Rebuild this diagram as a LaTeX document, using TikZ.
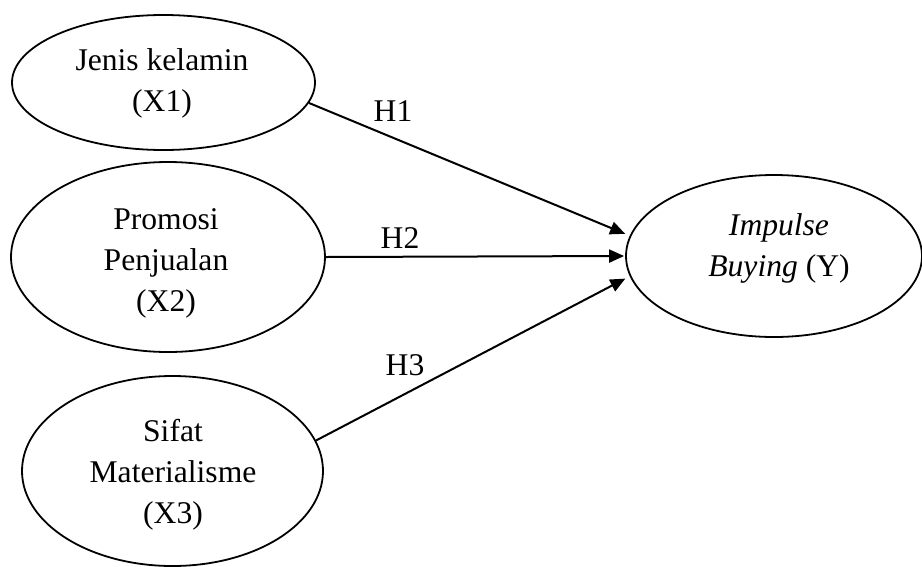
\documentclass[tikz,border=0pt]{standalone}
\usepackage{fontspec}
\setmainfont{Liberation Serif}
\usetikzlibrary{shapes.geometric,arrows.meta}
\begin{document}
\begin{tikzpicture}[x=1pt,y=-1pt,
  oval/.style={ellipse,draw,line width=1.8pt,inner sep=0pt},
  txt/.style={align=center,inner sep=0pt,font=\fontsize{31.6}{41}\selectfont},
  hyp/.style={inner sep=0pt,font=\fontsize{31.6}{41}\selectfont},
  link/.style={line width=2pt,-{Triangle[length=15pt,width=13pt]},shorten >=5pt}]
\useasboundingbox (0,0) rectangle (922,566);
\node[oval,minimum width=303pt,minimum height=135pt] (x1) at (163.5,82.5) {};
\node[oval,minimum width=314pt,minimum height=190pt] (x2) at (168,257) {};
\node[oval,minimum width=301pt,minimum height=190pt] (x3) at (172.5,471) {};
\node[oval,minimum width=296pt,minimum height=162pt] (y) at (774,256) {};
\node[txt] (t1) at (162,83) {Jenis kelamin\\(X1)};
\node[txt] (t2) at (166,263.5) {Promosi\\Penjualan\\(X2)};
\node[txt] (t3) at (173,475) {Sifat\\Materialisme\\(X3)};
\node[txt] (ty) at (779,248) {\textit{Impulse}\\\textit{Buying} (Y)};
\draw[link] (x1.-8) -- (y.172);
\draw[link,shorten >=1pt] (x2.east) -- (y.west);
\draw[link] (x3.12) -- (y.188);
\node[hyp] (h1) at (393,111) {H1};
\node[hyp] (h2) at (400,238) {H2};
\node[hyp] (h3) at (405,365.5) {H3};
\end{tikzpicture}
\end{document}
